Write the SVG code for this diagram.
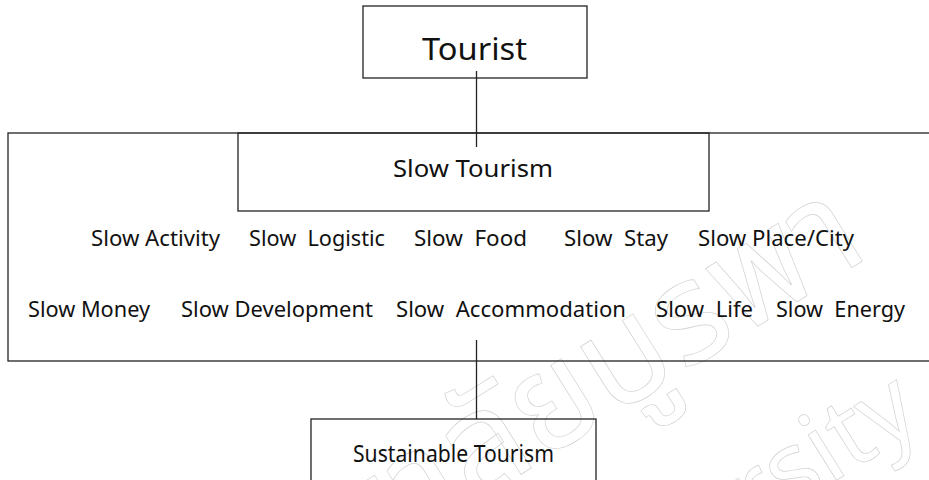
<svg xmlns="http://www.w3.org/2000/svg" width="929" height="480" viewBox="0 0 929 480">
<style>
.box{fill:none;stroke:#222;stroke-width:1.3}
.t{font-family:"Noto Sans","Open Sans",sans-serif;fill:#111;white-space:pre}
.wm{font-family:"Noto Sans Thai","Noto Sans","DejaVu Sans",sans-serif;fill:none;stroke:#d2d2d2;stroke-width:0.7}
.conn line{stroke:#222;stroke-width:1.3}
</style>
<rect width="929" height="480" fill="#fff"/>
<g id="watermark">
<text class="wm" x="872" y="255" font-size="140" text-anchor="end" transform="rotate(-32 872 255)">มหาวิทยาลัยบูรพา</text>
<text class="wm" x="925" y="425" font-size="100" text-anchor="end" transform="rotate(-32 925 425)">Burapha University</text>
</g>
<g id="frame">
<rect class="box" x="8" y="133" width="925" height="228"/>
</g>
<g id="tourist">
<rect class="box" x="363" y="6" width="224" height="72"/>
<text class="t" x="422" y="60" font-size="31" textLength="105" lengthAdjust="spacingAndGlyphs">Tourist</text>
</g>
<g id="slow-tourism">
<rect class="box" x="238" y="133" width="471" height="78"/>
<text class="t" x="393" y="177" font-size="23" textLength="160" lengthAdjust="spacingAndGlyphs">Slow Tourism</text>
</g>
<g id="slow-items">
<text class="t" x="91" y="246" font-size="21" textLength="129" lengthAdjust="spacingAndGlyphs">Slow Activity</text>
<text class="t" x="249" y="246" font-size="21" textLength="136" lengthAdjust="spacingAndGlyphs">Slow  Logistic</text>
<text class="t" x="414" y="246" font-size="21" textLength="113" lengthAdjust="spacingAndGlyphs">Slow  Food</text>
<text class="t" x="564" y="246" font-size="21" textLength="104" lengthAdjust="spacingAndGlyphs">Slow  Stay</text>
<text class="t" x="698" y="246" font-size="21" textLength="156" lengthAdjust="spacingAndGlyphs">Slow Place/City</text>
<text class="t" x="28" y="317" font-size="21" textLength="122" lengthAdjust="spacingAndGlyphs">Slow Money</text>
<text class="t" x="181" y="317" font-size="21" textLength="192" lengthAdjust="spacingAndGlyphs">Slow Development</text>
<text class="t" x="396" y="317" font-size="21" textLength="230" lengthAdjust="spacingAndGlyphs">Slow  Accommodation</text>
<text class="t" x="656" y="317" font-size="21" textLength="97" lengthAdjust="spacingAndGlyphs">Slow  Life</text>
<text class="t" x="776" y="317" font-size="21" textLength="129" lengthAdjust="spacingAndGlyphs">Slow  Energy</text>
</g>
<g id="sustainable-tourism">
<rect class="box" x="311" y="419" width="285" height="70"/>
<text class="t" x="353" y="462" font-size="23" textLength="201" lengthAdjust="spacingAndGlyphs">Sustainable Tourism</text>
</g>
<g id="connectors" class="conn">
<line x1="476.5" y1="71" x2="476.5" y2="147"/>
<line x1="476.5" y1="340" x2="476.5" y2="419"/>
</g>
</svg>
